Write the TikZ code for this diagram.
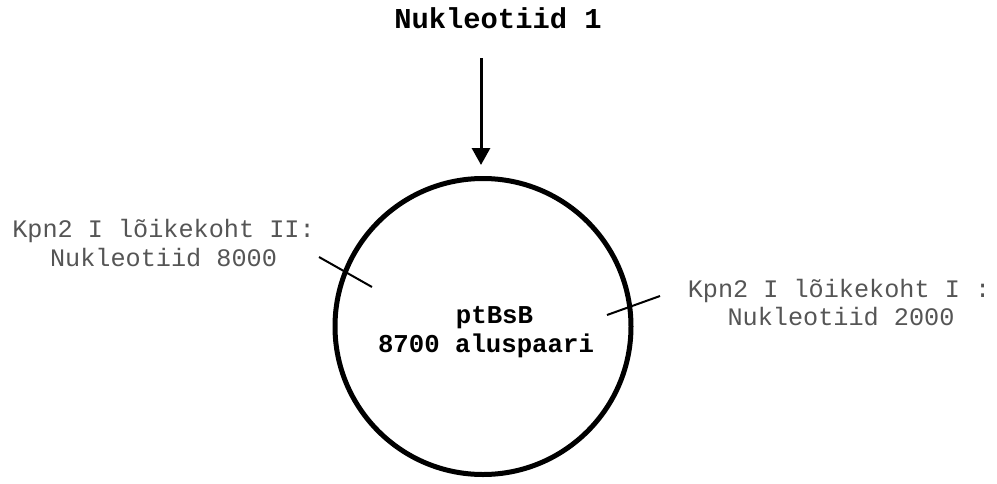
\documentclass[tikz,border=0pt]{standalone}
\usepackage{fontspec}
\setmonofont{Liberation Mono}
\usetikzlibrary{arrows.meta}
\definecolor{labelgray}{RGB}{85,85,85}
\begin{document}
\begin{tikzpicture}[x=0.5pt,y=-0.5pt,
  sitelabel/.style={font=\ttfamily\fontsize{12.6pt}{14.5pt}\selectfont, text=labelgray, inner sep=0pt, anchor=base},
  centerlabel/.style={font=\ttfamily\bfseries\fontsize{12.85pt}{14.5pt}\selectfont, inner sep=0pt, anchor=base},
  titlelabel/.style={font=\ttfamily\bfseries\fontsize{14.4pt}{17pt}\selectfont, inner sep=0pt, anchor=base},
  plasmidring/.style={circle, draw, line width=2.5pt, minimum size=148pt, inner sep=0pt},
  sitetick/.style={line width=1pt},
  pointer/.style={line width=1.5pt, -{Triangle[length=8.5pt,width=9pt]}}]
\useasboundingbox (0,0) rectangle (997,483);
% title
\node[titlelabel] (title) at (498,28) {Nukleotiid 1};
% plasmid circle
\node[plasmidring] (plasmid) at (483,326.5) {};
\node[centerlabel] (name) at (494.5,323) {ptBsB};
\node[centerlabel] (size) at (486,352) {8700 aluspaari};
% arrow
\coordinate (arrowstart) at (481,58);
\coordinate (arrowtip) at (481,165);
\draw[pointer] (arrowstart) -- (arrowtip);
% site ticks
\coordinate (tickLa) at (319,257);
\coordinate (tickLb) at (372,287);
\coordinate (tickRa) at (607,315);
\coordinate (tickRb) at (660,296);
\draw[sitetick] (tickLa) -- (tickLb);
\draw[sitetick] (tickRa) -- (tickRb);
% site labels
\node[sitelabel] (leftA) at (163.5,237) {Kpn2 I lõikekoht II:};
\node[sitelabel] (leftB) at (163.5,266) {Nukleotiid 8000};
\node[sitelabel] (rightA) at (839,297) {Kpn2 I lõikekoht I :};
\node[sitelabel] (rightB) at (841,325) {Nukleotiid 2000};
\end{tikzpicture}
\end{document}
